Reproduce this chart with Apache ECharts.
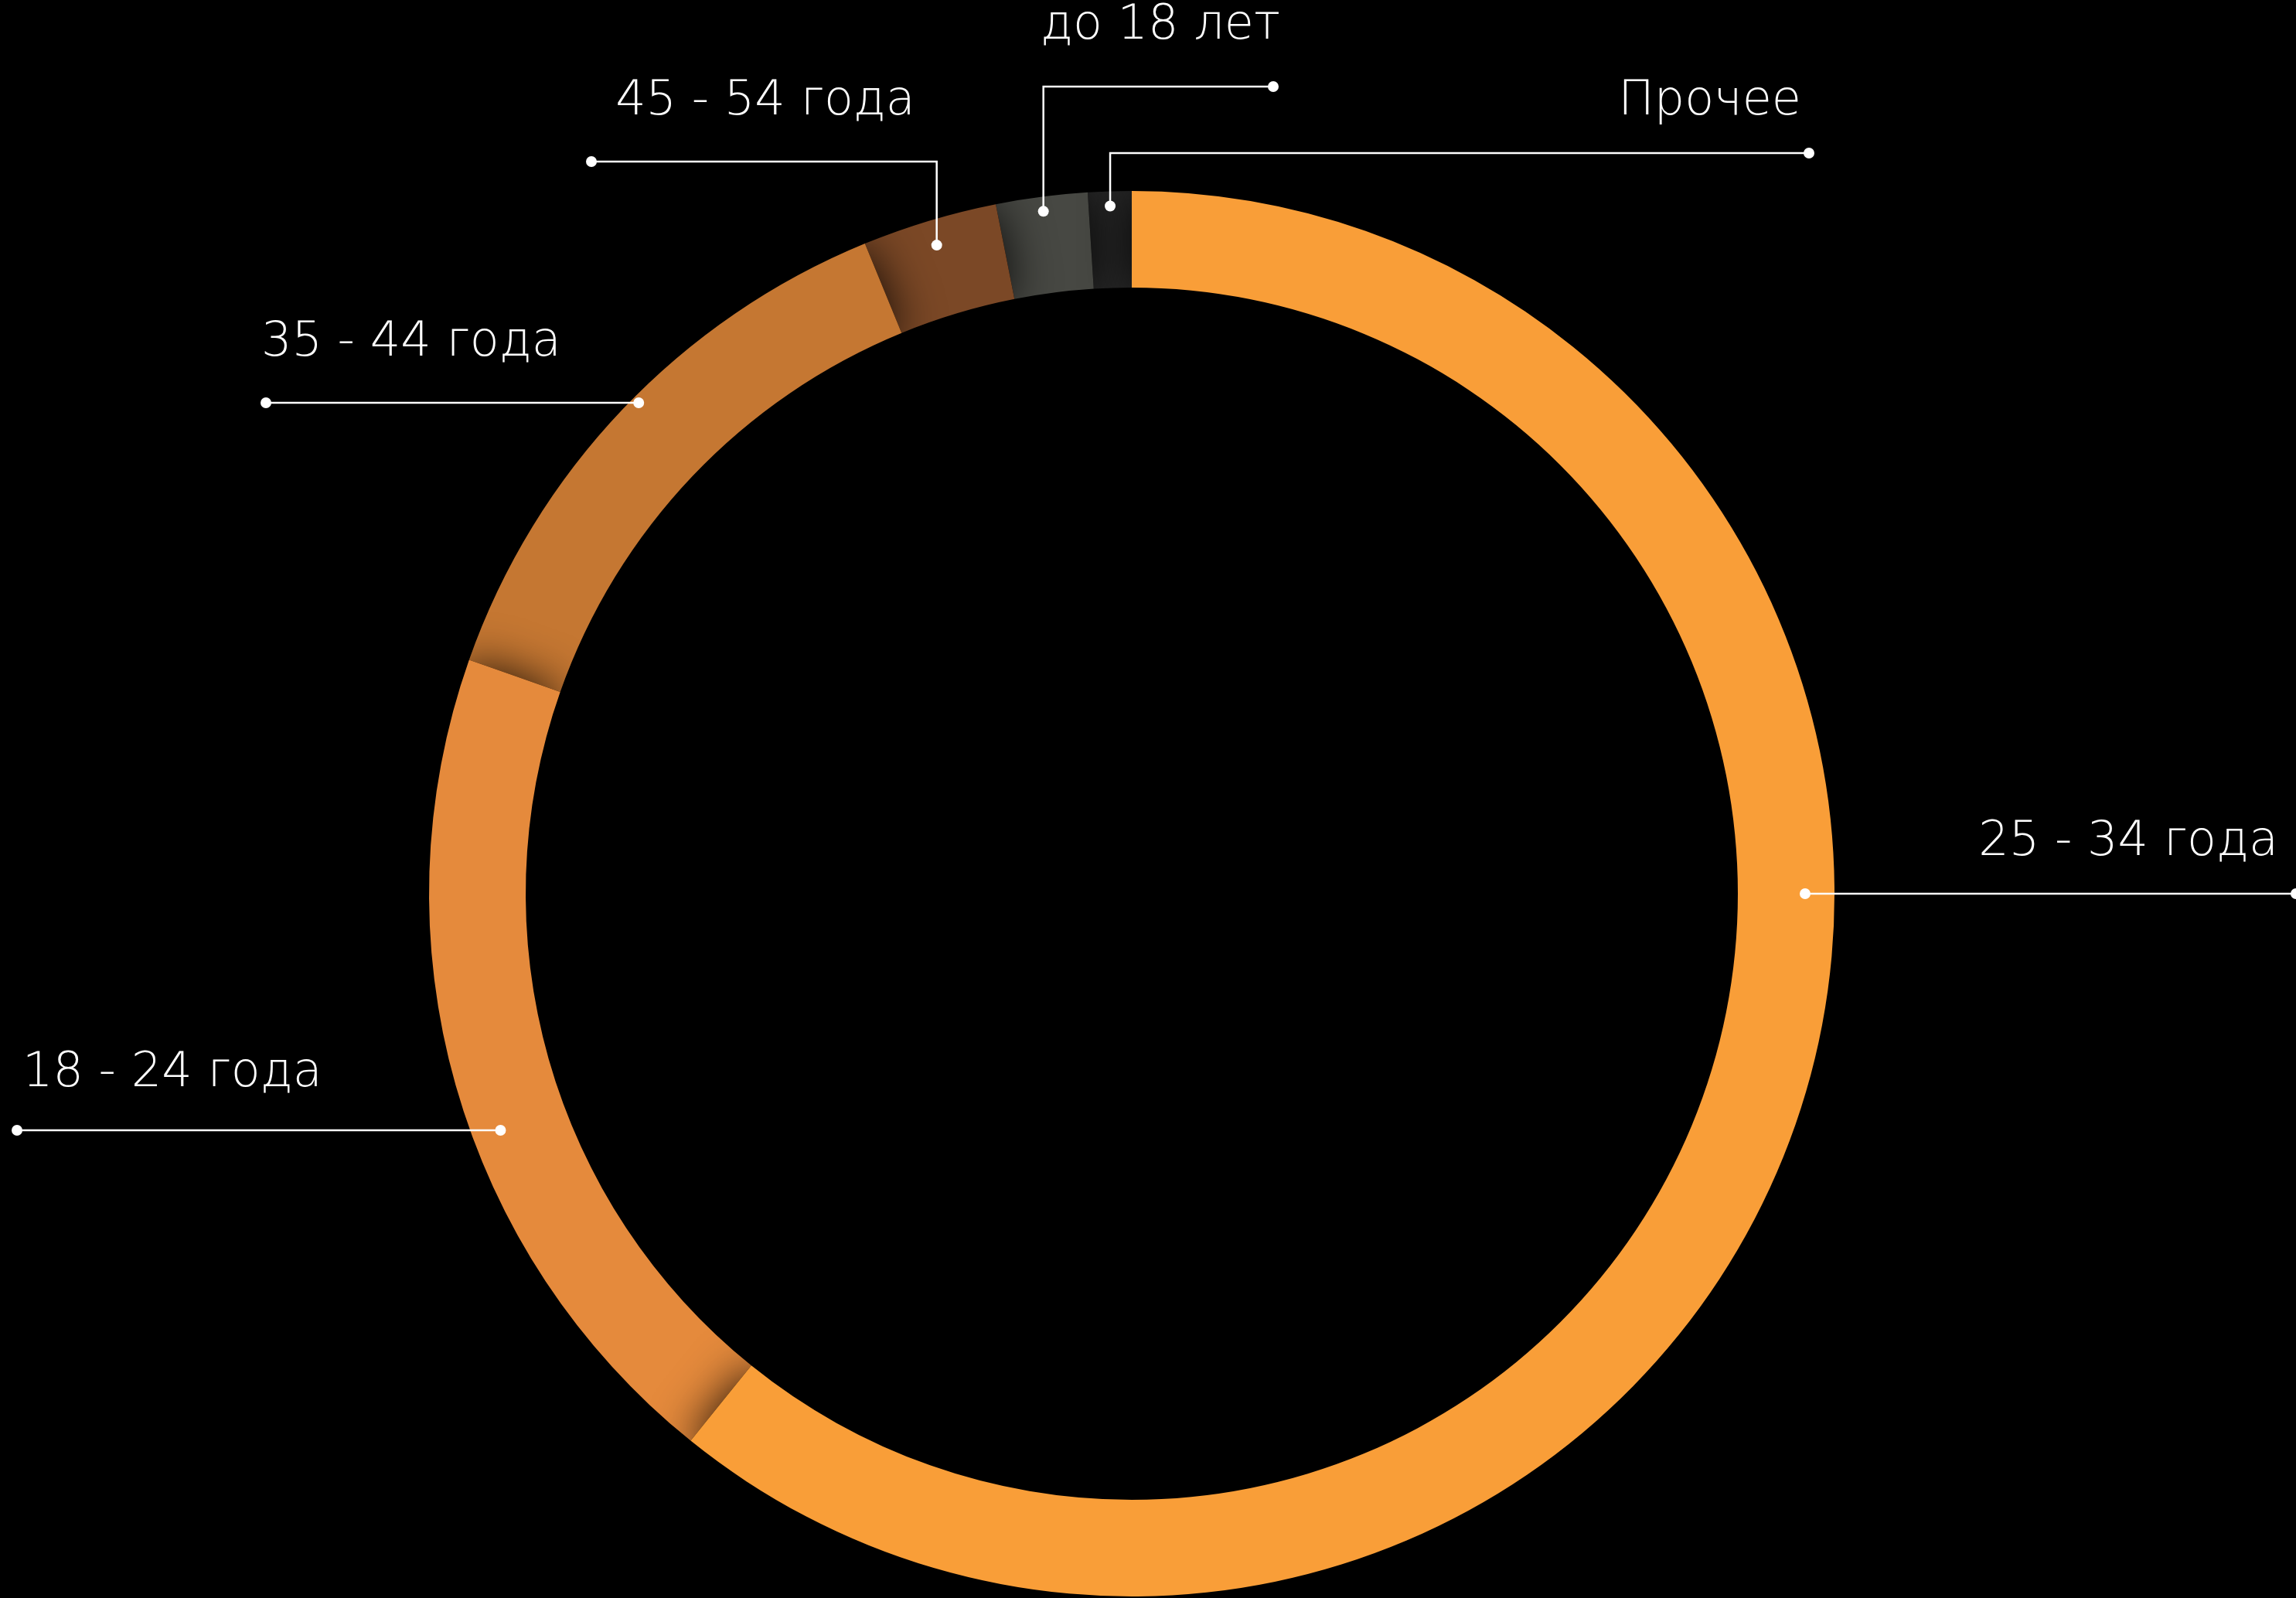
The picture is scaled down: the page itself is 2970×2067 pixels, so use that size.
<!DOCTYPE html>
<html>
<head>
<meta charset="utf-8">
<script src="https://cdn.jsdelivr.net/npm/echarts@6/dist/echarts.min.js"></script>
<style>
    html, body { margin: 0; padding: 0; background: #000; }
    #ageChart { width: 2970px; height: 2067px; }
</style>
</head>
<body>
<div id="ageChart"></div>
<script>
// возрастные группы аудитории, доля в %
const ageGroups = ['25 - 34 года', '18 - 24 года', '35 - 44 года', '45 - 54 года', 'до 18 лет', 'Прочее'];
const ageShares = [60.8, 19.6, 13.4, 3.1, 2.1, 1.0];
const groupColors = ['#F99E38', '#E58A3C', '#C57732', '#7B4826', '#474843', '#282828'];

// выноски: горизонтальные (lineY) или с изломом (elbowY)
const guides = [
    { lineY: 1156, r: 871, endX: 2970, textX: 2947, textY: 1090, align: 'right' },
    { lineY: 1462, r: 872, endX: 22, textX: 29, textY: 1389, align: 'left' },
    { lineY: 521, r: 900, endX: 344, textX: 338, textY: 444, align: 'left' },
    { elbowY: 209, r: 876, endX: 765, textX: 990, textY: 132, align: 'center' },
    { elbowY: 112, r: 890, endX: 1647, textX: 1501, textY: 34, align: 'center' },
    { elbowY: 198, r: 890, endX: 2340, textX: 2330, textY: 132, align: 'right' }
];

const n = ageGroups.length;
const chart = echarts.init(document.getElementById('ageChart'));

// рисуем в обратном порядке против часовой, чтобы каждый сектор отбрасывал тень на следующий
const pieData = ageGroups.map((name, i) => ({
    name: name,
    value: ageShares[i],
    itemStyle: { color: groupColors[i] }
})).reverse();

chart.setOption({
    backgroundColor: '#000',
    animation: false,
    series: [{
        type: 'pie',
        silent: true,
        clockwise: false,
        startAngle: 90,
        center: [1464, 1156],
        radius: [784, 909],
        avoidLabelOverlap: false,
        itemStyle: {
            shadowBlur: 60,
            shadowColor: 'rgba(0, 0, 0, 0.85)'
        },
        label: {
            show: true,
            position: 'outside',
            formatter: '{b}',
            color: '#fff',
            fontSize: 62,
            fontFamily: 'DejaVu Sans',
            fontWeight: 200
        },
        labelLine: { show: false },
        data: pieData
    }]
});

const seriesData = chart.getModel().getSeriesByIndex(0).getData();

function guidePoints(i) {
    const g = guides[i];
    const lay = seriesData.getItemLayout(n - 1 - i);
    const mid = (lay.startAngle + lay.endAngle) / 2;
    if (g.lineY != null) {
        const dy = g.lineY - lay.cy;
        const dx = Math.sqrt(g.r * g.r - dy * dy);
        const anchor = [lay.cx + (Math.cos(mid) >= 0 ? dx : -dx), g.lineY];
        return [anchor, [g.endX, g.lineY]];
    }
    const anchor = [lay.cx + g.r * Math.cos(mid), lay.cy + g.r * Math.sin(mid)];
    return [anchor, [anchor[0], g.elbowY], [g.endX, g.elbowY]];
}

const allPoints = guides.map((g, i) => guidePoints(i));

// линии выносок и точки на концах поверх кольца
const leaders = [];
allPoints.forEach(pts => {
    leaders.push({
        type: 'polyline',
        silent: true,
        z: 100,
        shape: { points: pts },
        style: { stroke: '#fff', lineWidth: 2.5, fill: null }
    });
    [pts[0], pts[pts.length - 1]].forEach(p => {
        leaders.push({
            type: 'circle',
            silent: true,
            z: 101,
            shape: { cx: p[0], cy: p[1], r: 7 },
            style: { fill: '#fff' }
        });
    });
});

chart.setOption({
    series: [{
        labelLayout: function (params) {
            const g = guides[n - 1 - params.dataIndex];
            return {
                x: g.textX,
                y: g.textY,
                align: g.align,
                verticalAlign: 'middle'
            };
        }
    }],
    graphic: leaders
});

window.addEventListener('resize', function () {
    chart.resize();
});
</script>
</body>
</html>
